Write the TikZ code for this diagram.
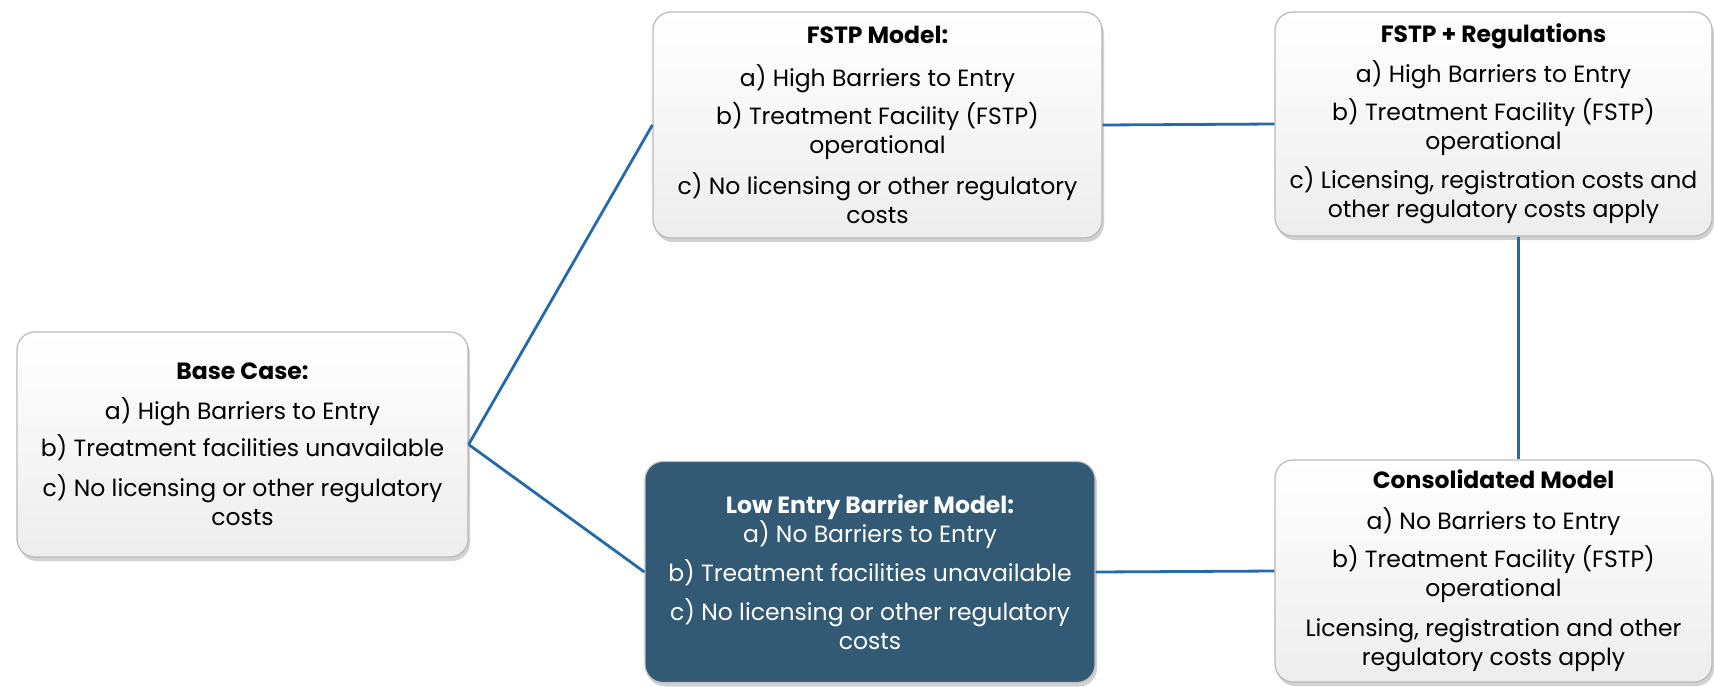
\documentclass[tikz,border=0pt]{standalone}
\usepackage{fontspec}
\setmainfont{Poppins}
\usetikzlibrary{shadows}
\definecolor{linkblue}{RGB}{36,106,170}
\definecolor{darkfill}{RGB}{51,90,116}
\begin{document}
\begin{tikzpicture}[x=1pt, y=-1pt,
    box/.style={draw=gray!55, line width=1.2pt, rounded corners=18pt,
        top color=white, bottom color=gray!14, align=center, inner sep=0pt,
        font=\fontsize{23.5}{29}\selectfont,
        drop shadow={shadow xshift=2pt, shadow yshift=-4pt, opacity=0.45, fill=gray!80}},
    darkbox/.style={box, draw=gray!50, top color=darkfill, bottom color=darkfill, text=white},
    link/.style={linkblue, line width=2.8pt}]
    \useasboundingbox (0,0) rectangle (1714,686);

    % Ausgangsfall
    \node[box, minimum width=451pt, minimum height=225pt] (base) at (242.5,444.5)
        {\textbf{Base Case:}\\[11pt] a) High Barriers to Entry\\[8pt]
         b) Treatment facilities unavailable\\[11pt]
         c) No licensing or other regulatory\\ costs};

    % obere Reihe
    \node[box, minimum width=449pt, minimum height=226pt] (fstp) at (877.5,125)
        {\textbf{FSTP Model:}\\[14pt] a) High Barriers to Entry\\[9pt]
         b) Treatment Facility (FSTP)\\ operational\\[12pt]
         c) No licensing or other regulatory\\ costs};
    \node[box, minimum width=437pt, minimum height=224pt] (reg) at (1493.5,124)
        {\textbf{FSTP + Regulations}\\[11pt] a) High Barriers to Entry\\[9pt]
         b) Treatment Facility (FSTP)\\ operational\\[10pt]
         c) Licensing, registration costs and\\ other regulatory costs apply};

    % untere Reihe
    \node[darkbox, minimum width=450pt, minimum height=221pt] (low) at (870,572)
        {\textbf{Low Entry Barrier Model:}\\ a) No Barriers to Entry\\[10pt]
         b) Treatment facilities unavailable\\[10pt]
         c) No licensing or other regulatory\\ costs};
    \node[box, minimum width=437pt, minimum height=222pt] (cons) at (1493.5,571)
        {\textbf{Consolidated Model}\\[12pt] a) No Barriers to Entry\\[9pt]
         b) Treatment Facility (FSTP)\\ operational\\[11pt]
         Licensing, registration and other\\ regulatory costs apply};

    % Verbindungen
    \draw[link] (base.east) -- (fstp.west);
    \draw[link] (base.east) -- (low.west);
    \draw[link] (fstp.east) -- (reg.west);
    \draw[link] ([xshift=25pt]reg.south) -- ([xshift=25pt]cons.north);
    \draw[link] (low.east) -- (cons.west);
\end{tikzpicture}
\end{document}
